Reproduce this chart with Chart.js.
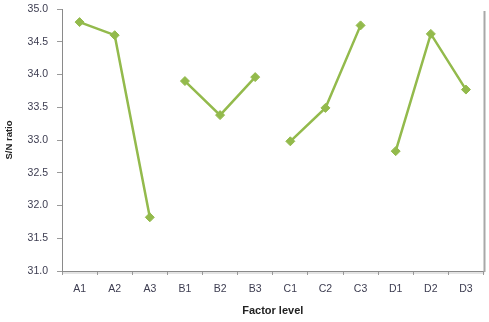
<!DOCTYPE html>
<html>
<head>
<meta charset="utf-8">
<script src="https://cdn.jsdelivr.net/npm/chart.js@4"></script>
<style>
html,body{margin:0;padding:0;background:#fff;}
#wrap{width:489px;height:322px;position:relative;}
</style>
</head>
<body>
<div id="wrap"><canvas id="c" width="489" height="322"></canvas></div>
<script>
const categories = ['A1','A2','A3','B1','B2','B3','C1','C2','C3','D1','D2','D3'];
const factorA = [34.80, 34.60, 31.82];
const factorB = [33.90, 33.38, 33.96];
const factorC = [32.98, 33.49, 34.75];
const factorD = [32.83, 34.62, 33.77];
const yTicks = [31.0, 31.5, 32.0, 32.5, 33.0, 33.5, 34.0, 34.5, 35.0];

const groups = [factorA, factorB, factorC, factorD];
const color = '#93BA4C';
const datasets = groups.map((vals, g) => {
  const d = new Array(categories.length).fill(null);
  vals.forEach((v, i) => { d[g * 3 + i] = v; });
  return {
    data: d,
    borderColor: color,
    backgroundColor: color,
    borderWidth: 2.5,
    pointStyle: 'rectRot',
    pointRadius: 4.5,
    pointBorderWidth: 1,
    spanGaps: false,
    tension: 0
  };
});

const rightEdge = {
  id: 'rightEdge',
  afterDraw(chart) {
    const a = chart.chartArea, ctx = chart.ctx;
    ctx.save();
    ctx.strokeStyle = '#a8a8a8';
    ctx.lineWidth = 2;
    ctx.beginPath();
    ctx.moveTo(a.right + 1, a.top + 2);
    ctx.lineTo(a.right + 1, a.bottom + 1);
    ctx.stroke();
    ctx.strokeStyle = 'rgba(150,150,150,0.35)';
    ctx.lineWidth = 1.5;
    ctx.beginPath();
    ctx.moveTo(a.left, a.bottom + 2);
    ctx.lineTo(a.right + 1, a.bottom + 2);
    ctx.stroke();
    ctx.restore();
  }
};

const tickFont = { family: 'Liberation Sans', size: 10.5 };

new Chart(document.getElementById('c'), {
  type: 'line',
  data: { labels: categories, datasets },
  plugins: [rightEdge],
  options: {
    responsive: false,
    animation: false,
    layout: { padding: { top: 9, right: 4, left: 0, bottom: 0 } },
    plugins: { legend: { display: false }, tooltip: { enabled: false } },
    scales: {
      x: {
        offset: true,
        grid: { offset: true, drawOnChartArea: false, drawTicks: true, tickLength: 4, color: '#9a9a9a' },
        border: { color: '#8a8a8a', width: 1 },
        ticks: { color: '#3c3c50', font: tickFont, padding: 8, maxRotation: 0 },
        title: { display: true, text: 'Factor level', color: '#222', font: { family: 'Liberation Sans', size: 11, weight: 'bold' }, padding: { top: 4, bottom: 4 } },
        afterFit(axis) { axis.height = 51; axis.paddingLeft = 0; axis.paddingRight = 0; }
      },
      y: {
        min: 31, max: 35,
        afterBuildTicks(axis) { axis.ticks = yTicks.map(v => ({ value: v })); },
        grid: { drawOnChartArea: false, drawTicks: true, tickLength: 5, color: '#9a9a9a' },
        border: { color: '#8a8a8a', width: 1 },
        ticks: { color: '#3c3c50', font: tickFont, padding: 9, callback: v => Number(v).toFixed(1) },
        title: { display: true, text: 'S/N ratio', color: '#222', font: { family: 'Liberation Sans', size: 9.5, weight: 'bold' }, padding: { top: 4, bottom: 4 } },
        afterFit(axis) { axis.width = 62; axis.paddingTop = 0; axis.paddingBottom = 0; }
      }
    }
  }
});
</script>
</body>
</html>
